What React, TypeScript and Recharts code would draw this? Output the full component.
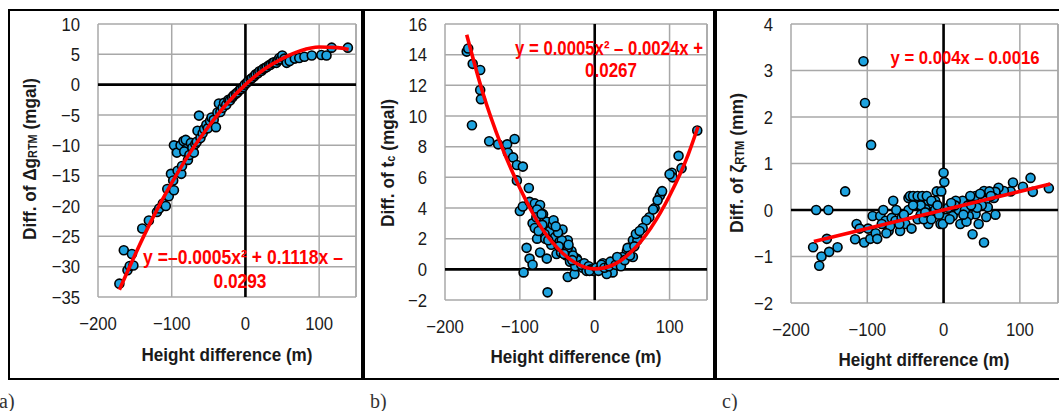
import React from 'react';
import { ComposedChart, Scatter, Line, XAxis, YAxis, CartesianGrid, ReferenceLine } from 'recharts';

// shared x ticks (height difference, m)
const xTicks = [-200, -100, 0, 100];

// a) Δg_RTM differences
const dgX = [-171, -165, -160, -157, -154, -152, -140, -131, -120, -117, -112, -108, -106, -104, -97, -101, -98, -92, -87, -86,
  -97, -93, -88, -84, -81, -80, -83, -78, -76, -74, -72, -70, -68, -66, -65, -63, -61, -58, -56, -53,
  -51, -48, -46, -43, -40, -38, -36, -34, -31, -29, -26, -23, -21, -18, -16, -13, -11, -8, -6, -3,
  -1, 2, 4, 7, 9, 12, 14, 17, 19, 22, 24, 27, 29, 32, 34, 37, 39, 42, 44, 46,
  48, 50, 53, 56, 60, 67, 73, 80, 90, 103, 110, 117, 139];
const dgY = [-32.8, -27.3, -30.6, -29.9, -27.9, -29.8, -23.7, -22.4, -21.0, -20.4, -19.6, -20.0, -17.2, -18.4, -17.4, -14.7, -15.8, -14.2, -14.7, -13.4,
  -10.0, -11.2, -10.0, -9.3, -9.1, -10.6, -11.0, -12.4, -11.6, -9.6, -10.4, -11.2, -9.8, -9.4, -7.6, -5.1, -8.8, -8.0, -7.3, -6.6,
  -7.2, -6.0, -5.4, -5.8, -7.0, -4.6, -3.1, -4.5, -3.8, -3.0, -3.3, -2.5, -2.6, -2.1, -1.8, -1.5, -1.3, -0.9, -0.7, -0.4,
  0, 0.3, 0.6, 0.9, 1.1, 1.4, 1.7, 1.9, 2.2, 2.3, 2.6, 2.8, 2.9, 3.2, 3.3, 3.6, 3.7, 3.6, 4.0, 4.4,
  4.2, 4.8, 4.3, 3.6, 3.9, 4.3, 4.4, 4.6, 4.8, 4.9, 4.8, 6.1, 6.1];
const dgFitX = [-171, -150, -125, -100, -75, -50, -25, 0, 25, 50, 75, 100, 125, 140];
const dgFitY = [-33.8, -28.1, -21.8, -16.2, -11.2, -6.9, -3.1, 0, 2.5, 4.3, 5.6, 6.2, 6.1, 5.8];
const dgTicks = [-35, -30, -25, -20, -15, -10, -5, 0, 5, 10];

// b) terrain correction differences
const tcX = [-171, -169, -163, -153, -153, -152, -164, -141, -129, -117, -107, -116, -109, -104, -96, -104, -88, -100, -96, -87,
  -80, -73, -77, -83, -80, -77, -91, -87, -83, -95, -73, -64, -63, -69, -64, -60, -56, -53, -51, -47,
  -43, -40, -36, -31, -36, -27, -24, -20, -16, -11, -44, -36, -23, -70, -67, -58, -55, -49, -45, -38,
  -33, -29, -26, -18, -14, -8, -5, -2, 137, 112, 116, 103, 104, 89, 87, 80, 73, 69, 64, 57,
  51, 49, 51, 43, 37, 33, 24, 24, 16, 11, 7, -7, 44, 57, 78, 84, 90, 100, 2, 5,
  9, 13, 19, 21, 28, 30, 35, 40, 47, 53, 55, 60, -78, -75, -71, -66, -62, -52, -48, -41, -35, -30];
const tcY = [14.2, 14.4, 13.4, 13.0, 11.7, 11.1, 9.4, 8.35, 8.15, 8.15, 8.5, 7.6, 7.3, 6.8, 6.7, 5.8, 5.3, 3.8, 4.1, 4.4,
  4.3, 4.2, 3.9, 3.0, 2.7, 2.0, 1.4, 0.7, 0.3, -0.2, 1.1, 0.7, -1.5, 3.6, 3.1, 2.5, 2.9, 2.1, 1.0, 1.8,
  2.6, 1.4, 1.9, 1.2, -0.5, -0.3, 0.7, 0.4, 0.1, -0.1, 1.9, 1.4, 0.6, 2.9, 2.3, 1.6, 3.2, 2.4, 1.1, 0.9,
  0.5, 0.9, 0.2, 0.3, 0.4, 0.2, 0.0, -0.1, 9.05, 7.4, 6.6, 6.3, 6.0, 5.0, 4.8, 4.0, 3.4, 3.2, 2.7, 2.1,
  1.9, 1.4, 0.8, 1.2, 0.8, 0.6, 0.4, -0.2, -0.3, 0.4, 0.1, -0.1, 1.4, 1.9, 3.9, 4.5, 5.1, 6.2, 0.1, -0.1,
  0.3, 0.1, 0.2, 0.5, 0.3, 0.8, 0.2, 0.6, 0.9, 1.5, 2.3, 2.5, 3.4, 2.5, 3.6, 2.0, 1.9, 2.8, 1.5, 1.0, 1.6, 0.6];
const tcFitX = [-171, -150, -125, -100, -75, -50, -25, 0, 25, 50, 75, 100, 125, 138];
const tcFitY = [15.3, 11.6, 8.1, 5.3, 3.0, 1.4, 0.4, 0.03, 0.3, 1.2, 2.7, 4.8, 7.5, 9.3];
const tcTicks = [-2, 0, 2, 4, 6, 8, 10, 12, 14, 16];

// c) ζ_RTM differences
const zX = [-105, -103, -95, -129, -167, -151, -153, -171, -163, -160, -150, -139, -116, -114, -104, -99, -96, -93, -89, -87,
  -83, -79, -76, -72, -66, -68, -63, -62, -57, -55, -50, -46, -46, -42, -38, -36, -30, -26, -24, -20,
  -20, -11, -9, 0, 1, -3, 138, 114, 117, 104, 91, 88, 79, 72, 68, 66, 53, 55, 58, 68,
  42, 46, 38, 53, 22, 33, 12, 3, -4, -20, 25, 38, 42, 32, 16, 20, 6, -14, -11, -11,
  -44, -40, -34, -28, -22, -16, -30, -34, -26, -16, -6, -1, 8, 15, 28, 35, 48, 50, 44, 60,
  30, -52, -58, -70, -81, -75, -110, -40, -24, -8, 10, 26, 36, 56, 62];
const zY = [3.2, 2.3, 1.4, 0.4, 0, 0, -0.62, -0.8, -1.2, -1.0, -0.9, -0.8, -0.63, -0.3, -0.7, -0.4, -0.62, -0.13, -0.5, -0.62,
  -0.13, 0, -0.23, -0.45, 0.2, -0.17, -0.23, 0, -0.45, -0.17, -0.3, 0.26, 0, -0.4, 0.13, 0.26, -0.1, 0.26, 0.05, -0.23,
  0.2, 0, 0.4, 0.8, 0.6, 0.4, 0.47, 0.69, 0.39, 0.5, 0.59, 0.4, 0.41, 0.48, 0.39, 0.26, 0.41, 0.2, 0.06, -0.1,
  -0.09, -0.3, -0.52, -0.7, -0.3, -0.13, -0.13, -0.17, -0.3, -0.3, 0.2, 0.2, 0.3, 0.1, 0.2, 0, 0.05, 0.13, 0, 0.2,
  0.3, 0.3, 0.3, 0.3, 0.3, 0.2, 0.1, -0.2, -0.2, -0.2, -0.1, -0.3, -0.2, 0.1, 0.0, 0.3, 0.35, 0.1, 0.05, 0.4,
  -0.25, -0.1, -0.3, -0.35, -0.3, -0.5, -0.4, 0.1, -0.05, 0.1, 0.15, -0.1, 0.1, -0.15, 0.3];
const zFitX = [-170, 140];
const zFitY = [-0.68, 0.56];
const zTicks = [-2, -1, 0, 1, 2, 3, 4];

const pairs = (xs: number[], ys: number[]) => xs.map((x, i) => ({ x, y: ys[i] }));

const SANS = '"Liberation Sans", Arial, sans-serif';
const fmt = (v: number) => (v < 0 ? `\u2212${Math.abs(v)}` : `${v}`);

// slightly condensed tick text, like the original figure
const Tick = (props: any) => {
  const { x, y, payload, textAnchor, verticalAnchor } = props;
  const dy = verticalAnchor === 'start' ? '0.71em' : '0.355em';
  return (
    <text transform={`translate(${x},${y}) scale(0.88,1)`} textAnchor={textAnchor} dy={dy}
      fontFamily={SANS} fontSize={19} fill="#1a1a1a">
      {fmt(payload.value)}
    </text>
  );
};

const Dot = (props: any) => {
  const { cx, cy } = props;
  if (cx == null || cy == null) return null;
  return <circle cx={cx} cy={cy} r={4.5} fill="#1ea3df" stroke="#000" strokeWidth={1.6} />;
};

interface PanelProps {
  left: number;
  width: number;
  margin: { top: number; right: number; bottom: number; left: number };
  yWidth: number;
  yDomain: [number, number];
  yTicks: number[];
  points: { x: number; y: number }[];
  fit: { x: number; y: number }[];
}

const Panel: React.FC<PanelProps> = ({ left, width, margin, yWidth, yDomain, yTicks, points, fit }) => (
  <div style={{ position: 'absolute', left, top: 0 }}>
    <ComposedChart width={width} height={380} margin={margin}>
      <CartesianGrid stroke="#a8a8a8" strokeWidth={1.5} />
      <XAxis type="number" dataKey="x" domain={[-200, 150]} ticks={xTicks} allowDataOverflow
        axisLine={false} tickLine={false} tickSize={0} tickMargin={19} height={30}
        tick={<Tick />} interval={0} />
      <YAxis type="number" dataKey="y" domain={yDomain} ticks={yTicks} allowDataOverflow
        axisLine={false} tickLine={false} tickSize={0} tickMargin={18} width={yWidth}
        tick={<Tick />} interval={0} />
      <ReferenceLine x={150} stroke="#a8a8a8" strokeWidth={1.5} />
      <ReferenceLine y={0} stroke="#000" strokeWidth={2.6} />
      <ReferenceLine x={0} stroke="#000" strokeWidth={2.6} />
      <Scatter data={points} shape={<Dot />} isAnimationActive={false} />
      <Line data={fit} dataKey="y" type="monotone" stroke="#ff0000" strokeWidth={3.6} dot={false}
        activeDot={false} isAnimationActive={false} zIndex={700} />
    </ComposedChart>
  </div>
);

const boxStyle = (left: number, width: number): React.CSSProperties => ({
  position: 'absolute', left, top: 9, width, height: 371, border: '2px solid #000', boxSizing: 'border-box',
});

const eqStyle = { fontFamily: SANS, fontSize: 20, fontWeight: 700, fill: '#ff0000', lengthAdjust: 'spacingAndGlyphs' } as const;
const titleStyle = { fontFamily: SANS, fontSize: 19, fontWeight: 700, fill: '#1a1a1a', lengthAdjust: 'spacingAndGlyphs' } as const;

const YTitle = ({ x, y, len, main, sub, unit }: { x: number; y: number; len: number; main: string; sub: string; unit: string }) => (
  <text x={x} y={y} transform={`rotate(-90 ${x} ${y})`} textAnchor="middle" dominantBaseline="central"
    textLength={len} {...titleStyle}>
    <tspan>{main}</tspan>
    <tspan fontSize={12} dy={4}>{sub}</tspan>
    <tspan dy={-4}>{unit}</tspan>
  </text>
);

export default function App() {
  return (
    <div style={{ position: 'absolute', left: 0, top: 0, width: 1059, height: 411, background: '#fff', overflow: 'hidden' }}>
      <div style={boxStyle(8, 355)} />
      <div style={boxStyle(363, 352)} />
      <div style={boxStyle(715, 350)} />
      <Panel left={0} width={363} margin={{ top: 24, right: 7, bottom: 53, left: 38 }} yWidth={60}
        yDomain={[-35, 10]} yTicks={dgTicks} points={pairs(dgX, dgY)} fit={pairs(dgFitX, dgFitY)} />
      <Panel left={363} width={352} margin={{ top: 24, right: 8, bottom: 50, left: 32 }} yWidth={50}
        yDomain={[-2, 16]} yTicks={tcTicks} points={pairs(tcX, tcY)} fit={pairs(tcFitX, tcFitY)} />
      <Panel left={715} width={344} margin={{ top: 24, right: 1, bottom: 47, left: 26 }} yWidth={50}
        yDomain={[-2, 4]} yTicks={zTicks} points={pairs(zX, zY)} fit={pairs(zFitX, zFitY)} />
      <svg width={1059} height={411} style={{ position: 'absolute', left: 0, top: 0, pointerEvents: 'none' }}>
        <YTitle x={29} y={159} len={162} main="Diff. of Δg" sub="RTM" unit=" (mgal)" />
        <YTitle x={387} y={163} len={128} main="Diff. of t" sub="c" unit=" (mgal)" />
        <YTitle x={736} y={163} len={140} main="Diff. of ζ" sub="RTM" unit=" (mm)" />
        <text x={227} y={361} textAnchor="middle" textLength={171} {...titleStyle}>Height difference (m)</text>
        <text x={576} y={363} textAnchor="middle" textLength={171} {...titleStyle}>Height difference (m)</text>
        <text x={924} y={366} textAnchor="middle" textLength={171} {...titleStyle}>Height difference (m)</text>
        <text x={243} y={264} textAnchor="middle" textLength={200} {...eqStyle}>y =–0.0005x² + 0.1118x –</text>
        <text x={240} y={288} textAnchor="middle" textLength={53} {...eqStyle}>0.0293</text>
        <text x={609} y={55} textAnchor="middle" textLength={188} {...eqStyle}>y = 0.0005x² – 0.0024x +</text>
        <text x={611} y={77} textAnchor="middle" textLength={52} {...eqStyle}>0.0267</text>
        <text transform="translate(965,64) scale(0.88,1)" textAnchor="middle"
          fontFamily={SANS} fontSize={19} fontWeight={700} fill="#ff0000">y = 0.004x – 0.0016</text>
        <g fontFamily='"Liberation Serif", "DejaVu Serif", serif' fontSize={20} fill="#333">
          <text x={-1} y={408}>a)</text>
          <text x={370} y={408}>b)</text>
          <text x={722} y={408}>c)</text>
        </g>
      </svg>
    </div>
  );
}
